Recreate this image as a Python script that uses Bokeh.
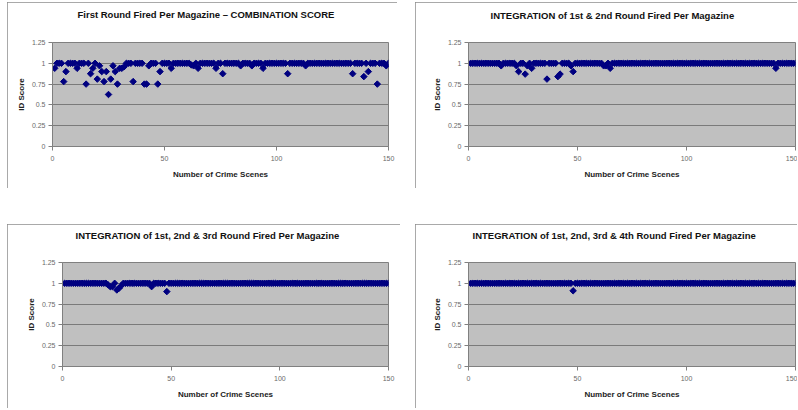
from bokeh.plotting import figure
from bokeh.models import FixedTicker, NumeralTickFormatter, Title, Range1d
from bokeh.layouts import column, row
from bokeh.embed import file_html
from bokeh.resources import INLINE

crime_scenes = list(range(1, 151))

x_ticks = [0, 50, 100, 150]
y_ticks = [0, 0.25, 0.5, 0.75, 1, 1.25]

titles = [
    "First Round Fired Per Magazine \u2013 COMBINATION SCORE",
    "INTEGRATION of 1st & 2nd Round Fired Per Magazine",
    "INTEGRATION of 1st, 2nd & 3rd Round Fired Per Magazine",
    "INTEGRATION of 1st, 2nd, 3rd & 4th Round Fired Per Magazine",
]

first_round = [
    0.94, 1, 1, 1, 0.78, 0.90, 1, 1, 1, 1,
    0.94, 1, 1, 1, 0.75, 1, 0.875, 0.94, 1, 0.81,
    0.97, 0.90, 0.78, 0.90, 0.625, 0.81, 0.97, 0.90, 0.75, 0.94,
    0.94, 0.96, 1, 1, 1, 0.78, 1, 1, 1, 1,
    0.75, 0.75, 0.97, 1, 1, 1, 0.75, 0.90, 1, 1,
    1, 1, 0.94, 1, 1, 1, 1, 1, 1, 1,
    1, 0.98, 0.97, 1, 0.94, 1, 1, 1, 1, 1,
    1, 1, 0.94, 1, 1, 0.875, 1, 1, 1, 1,
    1, 1, 1, 0.97, 1, 1, 1, 1, 0.97, 1,
    1, 1, 1, 0.94, 1, 1, 1, 1, 1, 1,
    1, 1, 1, 1, 0.875, 1, 1, 1, 1, 1,
    1, 1, 0.97, 1, 1, 1, 1, 1, 1, 1,
    1, 1, 1, 1, 1, 1, 1, 1, 1, 1,
    1, 1, 1, 0.875, 1, 1, 1, 1, 0.84, 1,
    0.90, 1, 1, 1, 0.75, 1, 1, 1, 0.97, 1,
]

integration_12 = [
    1, 1, 1, 1, 1, 1, 1, 1, 1, 1,
    1, 1, 1, 1, 0.97, 1, 1, 1, 1, 1,
    1, 0.97, 0.90, 1, 1, 0.87, 0.97, 1, 0.94, 1,
    1, 1, 1, 1, 1, 0.81, 1, 1, 1, 1,
    0.84, 0.87, 1, 1, 1, 1, 0.97, 0.90, 1, 1,
    1, 1, 1, 1, 1, 1, 1, 1, 1, 1,
    1, 0.97, 0.97, 1, 0.94, 1, 1, 1, 1, 1,
    1, 1, 1, 1, 1, 1, 1, 1, 1, 1,
    1, 1, 1, 1, 1, 1, 1, 1, 1, 1,
    1, 1, 1, 1, 1, 1, 1, 1, 1, 1,
    1, 1, 1, 1, 1, 1, 1, 1, 1, 1,
    1, 1, 1, 1, 1, 1, 1, 1, 1, 1,
    1, 1, 1, 1, 1, 1, 1, 1, 1, 1,
    1, 1, 1, 1, 1, 1, 1, 1, 1, 1,
    0.94, 1, 1, 1, 1, 1, 1, 1, 1, 1,
]

integration_123 = [
    1, 1, 1, 1, 1, 1, 1, 1, 1, 1,
    1, 1, 1, 1, 1, 1, 1, 1, 1, 1,
    0.98, 0.96, 0.96, 1, 0.92, 0.94, 0.97, 1, 1, 1,
    1, 1, 1, 1, 1, 1, 1, 1, 1, 1,
    0.96, 1, 1, 1, 1, 1, 1, 0.90, 1, 1,
    1, 1, 1, 1, 1, 1, 1, 1, 1, 1,
    1, 1, 1, 1, 1, 1, 1, 1, 1, 1,
    1, 1, 1, 1, 1, 1, 1, 1, 1, 1,
    1, 1, 1, 1, 1, 1, 1, 1, 1, 1,
    1, 1, 1, 1, 1, 1, 1, 1, 1, 1,
    1, 1, 1, 1, 1, 1, 1, 1, 1, 1,
    1, 1, 1, 1, 1, 1, 1, 1, 1, 1,
    1, 1, 1, 1, 1, 1, 1, 1, 1, 1,
    1, 1, 1, 1, 1, 1, 1, 1, 1, 1,
    1, 1, 1, 1, 1, 1, 1, 1, 1, 1,
]

integration_1234 = [
    1, 1, 1, 1, 1, 1, 1, 1, 1, 1,
    1, 1, 1, 1, 1, 1, 1, 1, 1, 1,
    1, 1, 1, 1, 1, 1, 1, 1, 1, 1,
    1, 1, 1, 1, 1, 1, 1, 1, 1, 1,
    1, 1, 1, 1, 1, 1, 1, 0.91, 1, 1,
    1, 1, 1, 1, 1, 1, 1, 1, 1, 1,
    1, 1, 1, 1, 1, 1, 1, 1, 1, 1,
    1, 1, 1, 1, 1, 1, 1, 1, 1, 1,
    1, 1, 1, 1, 1, 1, 1, 1, 1, 1,
    1, 1, 1, 1, 1, 1, 1, 1, 1, 1,
    1, 1, 1, 1, 1, 1, 1, 1, 1, 1,
    1, 1, 1, 1, 1, 1, 1, 1, 1, 1,
    1, 1, 1, 1, 1, 1, 1, 1, 1, 1,
    1, 1, 1, 1, 1, 1, 1, 1, 1, 1,
    1, 1, 1, 1, 1, 1, 1, 1, 1, 1,
]

FONT = "Liberation Sans"


def make_panel(values, title, w, h, ml, mr, mt, mb, toff, gap):
    p = figure(
        width=w, height=h,
        x_range=Range1d(0, 150), y_range=Range1d(0, 1.25),
        output_backend="svg", toolbar_location=None, title=None,
        min_border_left=ml, min_border_right=mr,
        min_border_top=mt, min_border_bottom=mb,
        background_fill_color="#c0c0c0", border_fill_color="white",
        outline_line_color="#808080",
        styles={"outline": "1px solid #8c8c8c", "outline-offset": "-1px"},
    )
    p.xgrid.visible = False
    p.ygrid.ticker = FixedTicker(ticks=y_ticks)
    p.ygrid.grid_line_color = "#7a7a7a"
    p.ygrid.grid_line_width = 1

    p.xaxis.ticker = FixedTicker(ticks=x_ticks)
    p.yaxis.ticker = FixedTicker(ticks=y_ticks)
    p.yaxis.formatter = NumeralTickFormatter(format="0.[00]")
    for ax in (p.xaxis, p.yaxis):
        ax.axis_line_color = "#808080"
        ax.major_tick_line_color = "#808080"
        ax.minor_tick_line_color = None
        ax.major_tick_out = 4
        ax.major_tick_in = 0
        ax.major_label_text_font = FONT
        ax.major_label_text_font_size = "7px"
        ax.major_label_text_color = "#6a6a6a"
        ax.axis_label_text_font = FONT
        ax.axis_label_text_font_style = "bold"
        ax.axis_label_text_font_size = "8px"
        ax.axis_label_text_color = "#222222"
    p.xaxis.major_label_standoff = 5
    p.yaxis.major_label_standoff = 3
    p.xaxis.axis_label = "Number of Crime Scenes"
    p.yaxis.axis_label = "ID Score"
    p.xaxis.axis_label_standoff = 6
    p.yaxis.axis_label_standoff = 3

    p.scatter(crime_scenes, values, marker="square", angle=0.785398, size=4.6,
              fill_color="#000080", line_color="#000080")

    # invisible spacer between the chart title and the plot frame
    p.add_layout(Title(text=" ", standoff=gap, text_font_size="1px",
                       text_color="white"), "above")
    p.add_layout(Title(text=title, align="left", offset=toff, standoff=0,
                       text_font=FONT, text_font_style="bold",
                       text_font_size="9.5px", text_color="#111111"), "above")
    return p


p1 = make_panel(first_round, titles[0], 390, 186, 45, 9, 40, 42, 25, 20)
p2 = make_panel(integration_12, titles[1], 382, 186, 53, 2, 40, 41, 22, 19)
p3 = make_panel(integration_123, titles[2], 393, 184, 55, 12, 38, 40, 13, 19)
p4 = make_panel(integration_1234, titles[3], 382, 184, 53, 2, 37, 42, 4, 19)

layout = column(row(p1, p2, spacing=18), row(p3, p4, spacing=15), spacing=36,
                margin=(2, 0, 0, 7))

open("out.html", "w").write(file_html(layout, INLINE))
